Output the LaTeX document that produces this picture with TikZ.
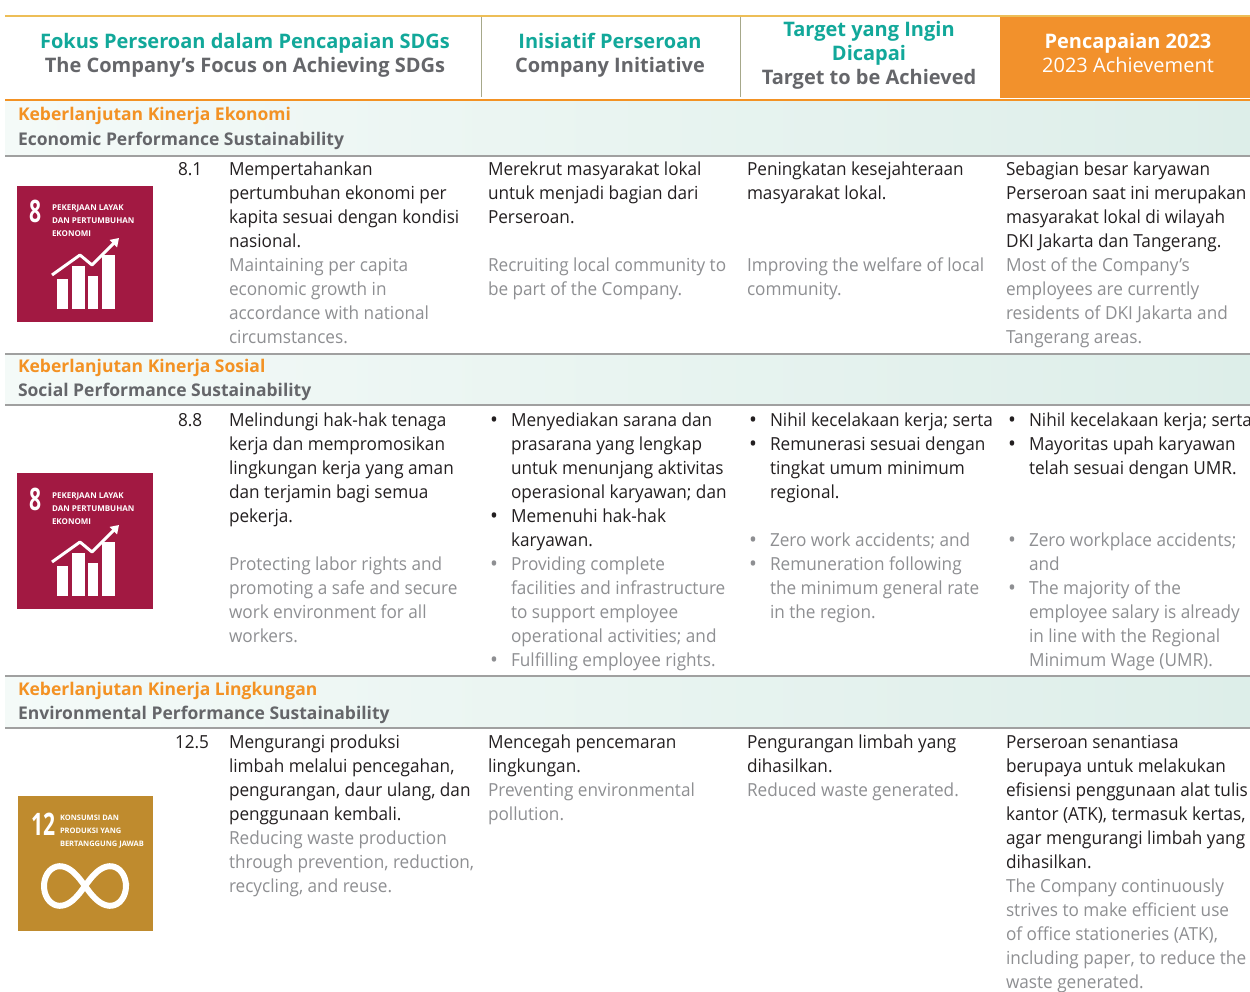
\documentclass[tikz,border=0pt]{standalone}
\usepackage{fontspec}
\usetikzlibrary{arrows.meta}
\setmainfont{Open Sans}
\newfontfamily\bodyfam{Open Sans}[FakeStretch=0.955]
\definecolor{teal}{HTML}{12A89A}
\definecolor{hgray}{HTML}{65666A}
\definecolor{orng}{HTML}{F39224}
\definecolor{orfill}{HTML}{F2912C}
\definecolor{gold}{HTML}{EDBE57}
\definecolor{idcol}{HTML}{231F20}
\definecolor{encol}{HTML}{8E8F92}
\definecolor{rule}{HTML}{A0A0A0}
\definecolor{sep}{HTML}{A6A88A}
\definecolor{bandL}{HTML}{F4FAF8}
\definecolor{bandR}{HTML}{DDEEE9}
\definecolor{sdgred}{HTML}{A21942}
\definecolor{sdggold}{HTML}{BF8B2E}
\newcommand\bodyfont{\bodyfam\fontsize{18}{24}\selectfont}
\newcommand\blk[1]{\begin{tabular}[t]{@{}l@{}}#1\end{tabular}}
\newcommand\bul{\makebox[23pt][l]{\hspace{2pt}\raisebox{-1pt}{\fontsize{22}{24}\selectfont\textbullet}}}
\newcommand\ind{\hspace{23pt}}
\tikzset{
  tb/.style={anchor=base west, inner sep=0pt, outer sep=0pt},
  idt/.style={tb, text=idcol, font=\bodyfont},
  ent/.style={tb, text=encol, font=\bodyfont},
  hd/.style={anchor=base, inner sep=0pt, font=\fontsize{20}{24}\selectfont\bfseries},
  bandid/.style={tb, text=orng, font=\fontsize{17.5}{24}\selectfont\bfseries},
  banden/.style={tb, text=hgray, font=\fontsize{17.5}{24}\selectfont\bfseries},
  rowrule/.style={rule, line width=2pt},
  colsep/.style={sep, line width=1pt},
  icontxt/.style={tb, text=white, font=\fontsize{8}{13}\selectfont\bfseries},
  iconnum/.style={tb, text=white, font=\fontsize{31}{32}\selectfont\bfseries},
}
\begin{document}
\begin{tikzpicture}[x=1pt,y=-1pt]
\useasboundingbox (0,0) rectangle (1250,992);
\fill[white] (0,0) rectangle (1250,992);
% header
\fill[orfill] (1000,17) rectangle (1250,98);
\draw[gold, line width=1.5pt] (5,16) -- (1250,16);
\draw[orng, line width=3pt] (5,100.5) -- (1250,100.5);
\draw[colsep] (481,17) -- (481,97);
\draw[colsep] (740,17) -- (740,97);
\node[hd, text=teal] (h1a) at (245,49) {Fokus Perseroan dalam Pencapaian SDGs};
\node[hd, text=hgray] (h1b) at (245,73) {The Company’s Focus on Achieving SDGs};
\node[hd, text=teal] (h2a) at (610,49) {Inisiatif Perseroan};
\node[hd, text=hgray] (h2b) at (610,73) {Company Initiative};
\node[hd, text=teal] (h3a) at (869,37) {Target yang Ingin};
\node[hd, text=teal] (h3b) at (869,61) {Dicapai};
\node[hd, text=hgray] (h3c) at (869,85) {Target to be Achieved};
\node[hd, text=white] (h4a) at (1128,49) {Pencapaian 2023};
\node[hd, text=white, font=\fontsize{20}{24}\selectfont] (h4b) at (1128,73) {2023 Achievement};
% bands
\shade[left color=bandL, right color=bandR] (5,102) rectangle (1250,155);
\shade[left color=bandL, right color=bandR] (5,355) rectangle (1250,404);
\shade[left color=bandL, right color=bandR] (5,677) rectangle (1250,727);
\draw[rowrule] (5,156) -- (1250,156);
\draw[rowrule] (5,354) -- (1250,354);
\draw[rowrule] (5,405) -- (1250,405);
\draw[rowrule] (5,676) -- (1250,676);
\draw[rowrule] (5,728) -- (1250,728);
\node[bandid] (b1a) at (18,121) {Keberlanjutan Kinerja Ekonomi};
\node[banden] (b1b) at (18,146) {Economic Performance Sustainability};
\node[bandid] (b2a) at (18,372) {Keberlanjutan Kinerja Sosial};
\node[banden] (b2b) at (18,396) {Social Performance Sustainability};
\node[bandid] (b3a) at (18,695) {Keberlanjutan Kinerja Lingkungan};
\node[banden] (b3b) at (18,719) {Environmental Performance Sustainability};
% icons SDG 8
\foreach \dy/\nm in {0/ia,287/ib}{
  \begin{scope}[yshift=-\dy pt]
  \fill[sdgred] (17,186) rectangle (153,322);
  \node[iconnum, xscale=0.68] (\nm n) at (29,223) {8};
  \node[icontxt] (\nm t) at (52,211) {\blk{PEKERJAAN LAYAK\\DAN PERTUMBUHAN\\EKONOMI}};
  \fill[white] (57,279) rectangle (68,309);
  \fill[white] (72,266) rectangle (85,309);
  \fill[white] (88,276) rectangle (98,309);
  \fill[white] (102,255) rectangle (115,309);
  \draw[white, line width=3pt, line join=round, -{Triangle[length=8pt,width=10pt]}] (52,275) -- (80,255) -- (92,265) -- (119,238);
  \end{scope}
}
% icon SDG 12
\fill[sdggold] (18,796) rectangle (153,931);
\node[iconnum, xscale=0.68] (icn) at (31,835) {12};
\node[icontxt, font=\fontsize{7.5}{13}\selectfont\bfseries] (ict) at (60,820) {\blk{KONSUMSI DAN\\PRODUKSI YANG\\BERTANGGUNG JAWAB}};
\draw[white, line width=6pt] plot[domain=0:360, samples=90, smooth cycle] ({85+41*cos(\x)/(1+sin(\x)^2)}, {886+56*sin(\x)*cos(\x)/(1+sin(\x)^2)});
% row 1
\node[idt] (n1) at (178,176) {8.1};
\node[idt] (r1c1) at (229,176) {\blk{Mempertahankan\\pertumbuhan ekonomi per\\kapita sesuai dengan kondisi\\nasional.}};
\node[ent] (r1c1e) at (229,272) {\blk{Maintaining per capita\\economic growth in\\accordance with national\\circumstances.}};
\node[idt] (r1c2) at (488,176) {\blk{Merekrut masyarakat lokal\\untuk menjadi bagian dari\\Perseroan.}};
\node[ent] (r1c2e) at (488,272) {\blk{Recruiting local community to\\be part of the Company.}};
\node[idt] (r1c3) at (747,176) {\blk{Peningkatan kesejahteraan\\masyarakat lokal.}};
\node[ent] (r1c3e) at (747,272) {\blk{Improving the welfare of local\\community.}};
\node[idt] (r1c4) at (1006,176) {\blk{Sebagian besar karyawan\\Perseroan saat ini merupakan\\masyarakat lokal di wilayah\\DKI Jakarta dan Tangerang.}};
\node[ent] (r1c4e) at (1006,272) {\blk{Most of the Company’s\\employees are currently\\residents of DKI Jakarta and\\Tangerang areas.}};
% row 2
\node[idt] (n2) at (178,426) {8.8};
\node[idt] (r2c1) at (229,426) {\blk{Melindungi hak-hak tenaga\\kerja dan mempromosikan\\lingkungan kerja yang aman\\dan terjamin bagi semua\\pekerja.}};
\node[ent] (r2c1e) at (229,570) {\blk{Protecting labor rights and\\promoting a safe and secure\\work environment for all\\workers.}};
\node[idt] (r2c2) at (488,426) {\blk{\bul Menyediakan sarana dan\\\ind prasarana yang lengkap\\\ind untuk menunjang aktivitas\\\ind operasional karyawan; dan\\\bul Memenuhi hak-hak\\\ind karyawan.}};
\node[ent] (r2c2e) at (488,570) {\blk{\bul Providing complete\\\ind facilities and infrastructure\\\ind to support employee\\\ind operational activities; and\\\bul Fulfilling employee rights.}};
\node[idt] (r2c3) at (747,426) {\blk{\bul Nihil kecelakaan kerja; serta\\\bul Remunerasi sesuai dengan\\\ind tingkat umum minimum\\\ind regional.}};
\node[ent] (r2c3e) at (747,546) {\blk{\bul Zero work accidents; and\\\bul Remuneration following\\\ind the minimum general rate\\\ind in the region.}};
\node[idt] (r2c4) at (1006,426) {\blk{\bul Nihil kecelakaan kerja; serta\\\bul Mayoritas upah karyawan\\\ind telah sesuai dengan UMR.}};
\node[ent] (r2c4e) at (1006,546) {\blk{\bul Zero workplace accidents;\\\ind and\\\bul The majority of the\\\ind employee salary is already\\\ind in line with the Regional\\\ind Minimum Wage (UMR).}};
% row 3
\node[idt] (n3) at (175,748) {12.5};
\node[idt] (r3c1) at (229,748) {\blk{Mengurangi produksi\\limbah melalui pencegahan,\\pengurangan, daur ulang, dan\\penggunaan kembali.}};
\node[ent] (r3c1e) at (229,844) {\blk{Reducing waste production\\through prevention, reduction,\\recycling, and reuse.}};
\node[idt] (r3c2) at (488,748) {\blk{Mencegah pencemaran\\lingkungan.}};
\node[ent] (r3c2e) at (488,796) {\blk{Preventing environmental\\pollution.}};
\node[idt] (r3c3) at (747,748) {\blk{Pengurangan limbah yang\\dihasilkan.}};
\node[ent] (r3c3e) at (747,796) {\blk{Reduced waste generated.}};
\node[idt] (r3c4) at (1006,748) {\blk{Perseroan senantiasa\\berupaya untuk melakukan\\efisiensi penggunaan alat tulis\\kantor (ATK), termasuk kertas,\\agar mengurangi limbah yang\\dihasilkan.}};
\node[ent] (r3c4e) at (1006,892) {\blk{The Company continuously\\strives to make efficient use\\of office stationeries (ATK),\\including paper, to reduce the\\waste generated.}};
\end{tikzpicture}
\end{document}
